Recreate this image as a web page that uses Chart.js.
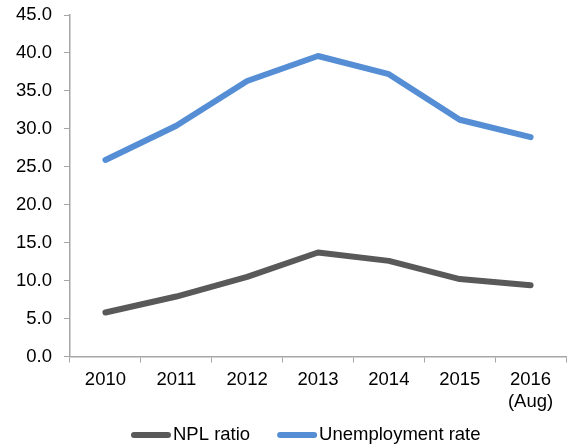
<!DOCTYPE html>
<html lang="en">
  <head>
    <meta charset="UTF-8" />
    <script src="https://cdn.jsdelivr.net/npm/chart.js@4/dist/chart.umd.min.js"></script>
    <title>NPL ratio and unemployment rate</title>
    <style>
      html, body { margin: 0; padding: 0; background: #fff; }
    </style>
  </head>
  <body>
    <canvas id="chart" width="569" height="448"></canvas>
    <script>
      const years = ["2010", "2011", "2012", "2013", "2014", "2015", ["2016", "(Aug)"]];
      const nplRatio = [5.8, 7.9, 10.5, 13.7, 12.6, 10.2, 9.4];
      const unemploymentRate = [25.9, 30.4, 36.3, 39.6, 37.2, 31.2, 28.9];

      const font = { family: "'Liberation Sans', Arial, sans-serif", size: 18.5 };
      const axisColor = "#A6A6A6";

      Chart.defaults.font = font;
      Chart.defaults.color = "#000";

      // legend under the x labels: short thick line, then the series name
      const bottomLegend = {
        id: "bottomLegend",
        afterDraw(chart) {
          const ctx = chart.ctx;
          const y = 435;
          const lineLen = 34;
          let x = 134;
          ctx.save();
          ctx.font = font.size + "px " + font.family;
          ctx.textBaseline = "middle";
          ctx.lineCap = "round";
          chart.data.datasets.forEach((ds) => {
            ctx.strokeStyle = ds.borderColor;
            ctx.lineWidth = ds.borderWidth;
            ctx.beginPath();
            ctx.moveTo(x, y);
            ctx.lineTo(x + lineLen, y);
            ctx.stroke();
            x += lineLen + 5;
            ctx.fillStyle = "#000";
            ctx.fillText(ds.label, x, y);
            x += ctx.measureText(ds.label).width + 30;
          });
          ctx.restore();
        },
      };

      new Chart(document.getElementById("chart"), {
        type: "line",
        data: {
          labels: years,
          datasets: [
            {
              label: "NPL ratio",
              data: nplRatio,
              borderColor: "#595959",
              borderWidth: 6,
              borderCapStyle: "round",
              borderJoinStyle: "round",
              pointRadius: 0,
              tension: 0,
            },
            {
              label: "Unemployment rate",
              data: unemploymentRate,
              borderColor: "#558ED5",
              borderWidth: 6,
              borderCapStyle: "round",
              borderJoinStyle: "round",
              pointRadius: 0,
              tension: 0,
            },
          ],
        },
        options: {
          responsive: false,
          animation: false,
          layout: { padding: { left: 0, right: 3, top: 0, bottom: 35.5 } },
          plugins: {
            tooltip: { enabled: false },
            legend: { display: false },
          },
          scales: {
            x: {
              offset: true,
              grid: {
                offset: true,
                drawOnChartArea: false,
                tickLength: 6,
                color: axisColor,
              },
              border: { color: axisColor, width: 1.5 },
              ticks: { padding: 6, maxRotation: 0, autoSkip: false },
              afterFit: (scale) => { scale.height = 56; },
            },
            y: {
              min: 0,
              max: 45,
              grid: {
                drawOnChartArea: false,
                tickLength: 6,
                color: axisColor,
              },
              border: { color: axisColor, width: 1.5 },
              ticks: {
                stepSize: 5,
                padding: 12,
                callback: (v) => v.toFixed(1),
              },
              afterFit: (scale) => {
                scale.width = 70;
                scale.paddingTop = 15;
              },
            },
          },
        },
        plugins: [bottomLegend],
      });
    </script>
  </body>
</html>
